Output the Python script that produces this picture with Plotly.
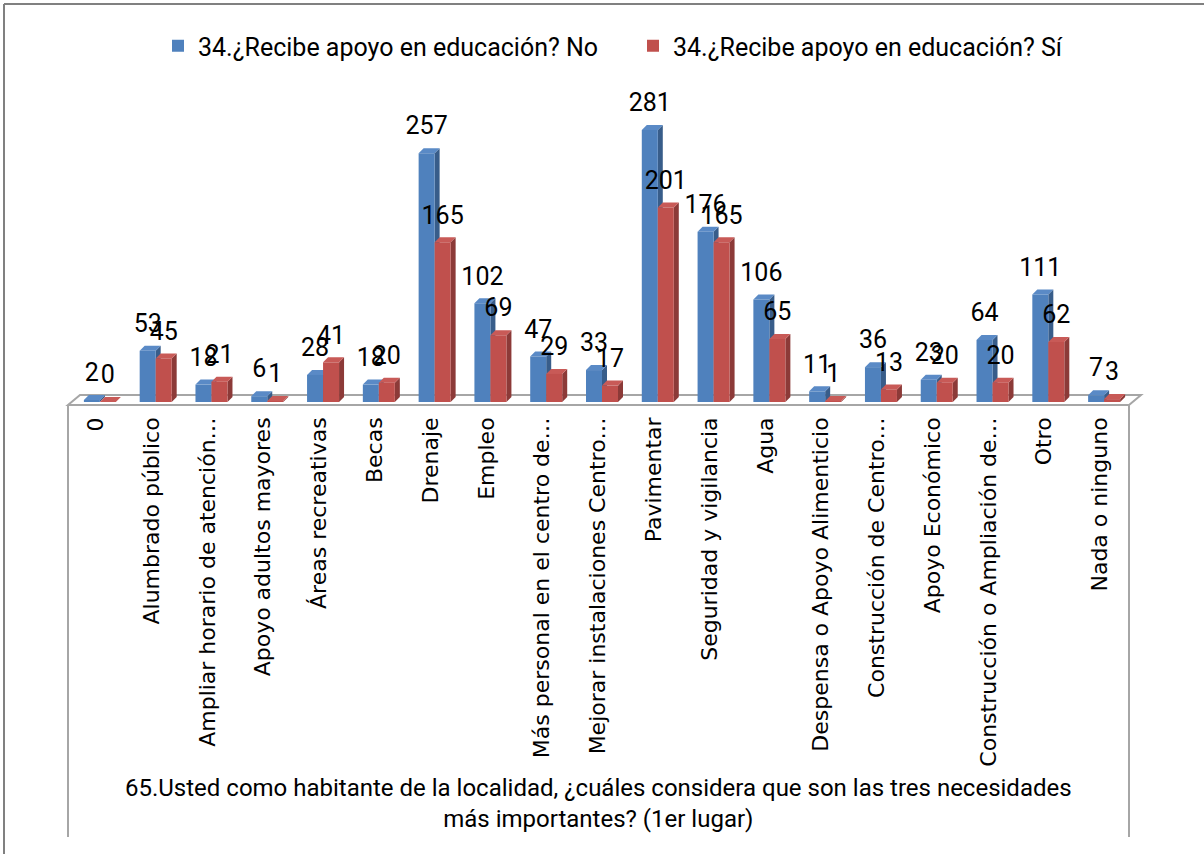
import plotly.graph_objects as go

# Needs named in first place, split by whether the household receives education support
categories = [
    "0",
    "Alumbrado público",
    "Ampliar horario de atención…",
    "Apoyo adultos mayores",
    "Áreas recreativas",
    "Becas",
    "Drenaje",
    "Empleo",
    "Más personal en el centro de…",
    "Mejorar instalaciones Centro…",
    "Pavimentar",
    "Seguridad y vigilancia",
    "Agua",
    "Despensa o Apoyo Alimenticio",
    "Construcción de Centro…",
    "Apoyo Económico",
    "Construcción o Ampliación de…",
    "Otro",
    "Nada o ninguno",
]
no_values = [2, 53, 18, 6, 28, 18, 257, 102, 47, 33, 281, 176, 106, 11, 36, 23, 64, 111, 7]
si_values = [0, 45, 21, 1, 41, 20, 165, 69, 29, 17, 201, 165, 65, 1, 13, 20, 20, 62, 3]

series_names = ["34.¿Recibe apoyo en educación? No", "34.¿Recibe apoyo en educación? Sí"]
axis_title = ("65.Usted como habitante de la localidad, ¿cuáles considera que son las tres necesidades"
              "<br>más importantes? (1er lugar)")

# Colours: front, side, top faces
BLUE = ("#4F81BD", "#385D8A", "#5A8AC6")
RED = ("#C0504D", "#8C3A38", "#C85A57")
GREY = "#A6A6A6"

# Page geometry (pixels)
W, H = 1204, 854
L, R, T, B = 68, 1128, 100, 412      # plot area
BASE = 402                           # pixel row of value 0
K = 0.968                            # pixels per unit
y_lo = -(B - BASE) / K
y_hi = (BASE - T) / K
n = len(categories)
cat_px = (R - L) / n
bar_w = 16 / cat_px                  # bar width in category units
shift = 4 / cat_px                   # columns sit slightly right of the tick
dx = 5 / cat_px                      # depth offset, x
dy = 5 / K                           # depth offset, y
label_gap = 25 / K


def px_x(px):
    return (px - L) / (R - L)


def px_y(py):
    return (B - py) / (B - T)


idx = list(range(n))
fig = go.Figure()

shapes = []
# Outer frame (left and top edges)
shapes.append(dict(type="line", xref="paper", yref="paper", x0=px_x(4), x1=px_x(4),
                   y0=px_y(4), y1=px_y(860), line=dict(color="#808080", width=2), layer="below"))
shapes.append(dict(type="line", xref="paper", yref="paper", x0=px_x(4), x1=px_x(1210),
                   y0=px_y(4), y1=px_y(4), line=dict(color="#808080", width=2), layer="below"))
# Floor of the 3D plot area
floor = "M {},{} L {},{} L {},{} L {},{} Z".format(
    px_x(68), px_y(405), px_x(1129), px_y(405), px_x(1141), px_y(395), px_x(80), px_y(395))
shapes.append(dict(type="path", xref="paper", yref="paper", path=floor,
                   line=dict(color=GREY, width=2), fillcolor="white", layer="below"))
# Category axis box sides
for xp in (68, 1129):
    shapes.append(dict(type="line", xref="paper", yref="paper", x0=px_x(xp), x1=px_x(xp),
                       y0=px_y(405), y1=px_y(837), line=dict(color=GREY, width=2), layer="below"))

offsets = (shift - bar_w, shift)     # left edge of each series' column, relative to the tick

# Side and top faces of each column, derived from the values
for vals, cols, off in ((no_values, BLUE, offsets[0]), (si_values, RED, offsets[1])):
    for i, v in zip(idx, vals):
        x0 = i + off
        x1 = x0 + bar_w
        side = f"M {x1},0 L {x1 + dx},{dy} L {x1 + dx},{v + dy} L {x1},{v} Z"
        top = f"M {x0},{v} L {x0 + dx},{v + dy} L {x1 + dx},{v + dy} L {x1},{v} Z"
        shapes.append(dict(type="path", xref="x", yref="y", path=side,
                           fillcolor=cols[1], line=dict(width=0), layer="below"))
        shapes.append(dict(type="path", xref="x", yref="y", path=top,
                           fillcolor=cols[2], line=dict(width=0), layer="below"))

for name, vals, cols, off in ((series_names[0], no_values, BLUE, offsets[0]),
                              (series_names[1], si_values, RED, offsets[1])):
    fig.add_trace(go.Bar(x=idx, y=vals, name=name, width=bar_w, offset=off,
                         marker=dict(color=cols[0], line=dict(width=0))))

for vals, off in ((no_values, offsets[0]), (si_values, offsets[1])):
    fig.add_trace(go.Scatter(
        x=[i + off + bar_w / 2 for i in idx], y=[v + label_gap for v in vals],
        text=[str(v) for v in vals], mode="text", textposition="middle center",
        textfont=dict(family="Roboto, Open Sans, sans-serif", size=25, color="black"),
        showlegend=False, cliponaxis=False, hoverinfo="skip"))

fig.update_layout(
    width=W, height=H,
    margin=dict(l=L, r=W - R, t=T, b=H - B, pad=0),
    paper_bgcolor="white", plot_bgcolor="rgba(0,0,0,0)",
    barmode="overlay",
    shapes=shapes,
    showlegend=True,
    legend=dict(orientation="h", x=px_x(158), y=px_y(46), xanchor="left", yanchor="middle",
                font=dict(family="Roboto, sans-serif", size=25, color="black"),
                entrywidth=430, entrywidthmode="pixels", bgcolor="rgba(0,0,0,0)"),
    xaxis=dict(range=[-0.5, n - 0.5], tickmode="array", tickvals=idx, ticktext=categories,
               tickangle=-90, showgrid=False, zeroline=False, showline=False, ticks="",
               tickfont=dict(family="DejaVu Sans, sans-serif", size=22, color="black"),
               fixedrange=True),
    yaxis=dict(range=[y_lo, y_hi], visible=False, fixedrange=True),
    annotations=[dict(text=axis_title, xref="paper", yref="paper", x=0.5, y=px_y(803),
                      xanchor="center", yanchor="middle", showarrow=False, align="center",
                      font=dict(family="Roboto, sans-serif", size=24, color="black"))],
)

fig.write_html("out.html")
